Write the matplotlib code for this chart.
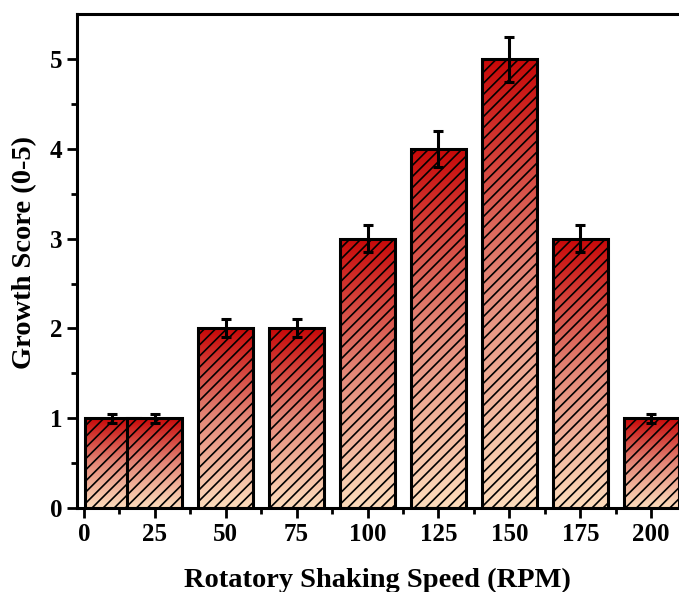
import numpy as np
import matplotlib.pyplot as plt
from matplotlib.colors import LinearSegmentedColormap

plt.rcParams['font.family'] = ['Liberation Serif', 'DejaVu Serif']
plt.rcParams['font.weight'] = 'bold'
plt.rcParams['hatch.linewidth'] = 1.2

speed = [10, 25, 50, 75, 100, 125, 150, 175, 200]
score = [1, 1, 2, 2, 3, 4, 5, 3, 1]
err = [0.05, 0.05, 0.1, 0.1, 0.15, 0.2, 0.25, 0.15, 0.05]
xticks = [0, 25, 50, 75, 100, 125, 150, 175, 200]

cmap = LinearSegmentedColormap.from_list('redgrad', ['#fddcbc', '#e48878', '#c80808'])
width = 19.5

fig = plt.figure(figsize=(6.79, 5.92), dpi=100)
ax = fig.add_axes([0.113, 0.142, 0.887, 0.834])

grad = np.linspace(0, 1, 256).reshape(-1, 1)
for i, (x, y, e) in enumerate(zip(speed, score, err)):
    z = 2 + i * 3
    bars = ax.bar(x, y, width=width, facecolor='none', edgecolor='black',
                  linewidth=2.2, hatch='///', zorder=z + 1)
    im = ax.imshow(grad, cmap=cmap, origin='lower', aspect='auto',
                   extent=[x - width / 2, x + width / 2, 0, y], zorder=z)
    im.set_clip_path(bars[0])
    ax.errorbar(x, y, yerr=e, fmt='none', ecolor='black', elinewidth=2.2,
                capsize=3.5, capthick=2.2, zorder=z + 2)

ax.set_xlim(-2.5, 209.8)
ax.set_ylim(0, 5.5)
ax.set_xticks(xticks)
ax.set_xticks(np.arange(12.5, 200, 25), minor=True)
ax.set_yticks([0, 1, 2, 3, 4, 5])
ax.set_yticks(np.arange(0.5, 5.5, 1), minor=True)
ax.tick_params(which='major', direction='out', length=7, width=2, labelsize=18)
ax.tick_params(which='minor', direction='out', length=4, width=2)
for s in ['left', 'bottom', 'top']:
    ax.spines[s].set_linewidth(2.2)
    ax.spines[s].set_zorder(40)
ax.spines['right'].set_visible(False)

ax.set_xlabel('Rotatory Shaking Speed (RPM)', fontsize=20.5, fontweight='bold', labelpad=16)
ax.set_ylabel('Growth Score (0-5)', fontsize=20.5, fontweight='bold')
ax.yaxis.set_label_coords(-0.066, 0.518)

fig.savefig('out.png', dpi=100)
